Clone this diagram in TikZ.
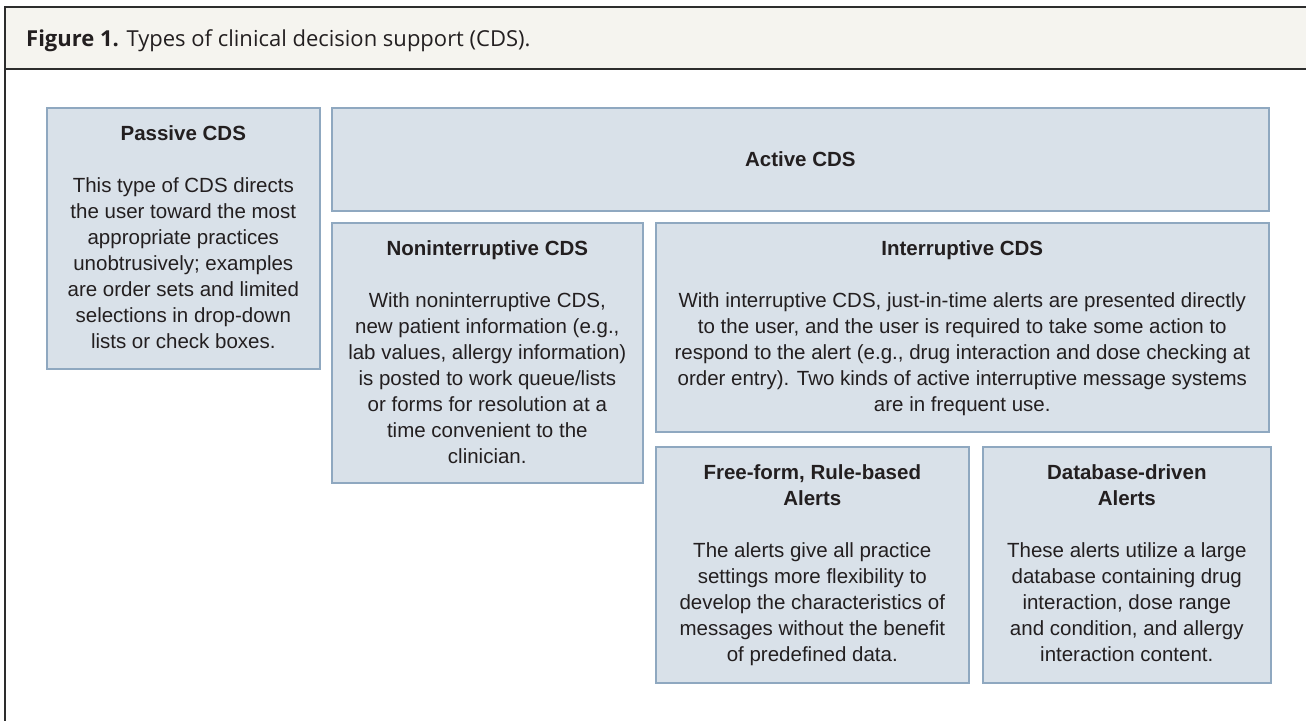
\documentclass[tikz,border=0pt]{standalone}
\usepackage{fontspec}
\setmainfont{Liberation Sans}
\newfontfamily\capfont{Open Sans}
\usetikzlibrary{calc}

\definecolor{boxfill}{RGB}{217,225,233}
\definecolor{boxline}{RGB}{143,168,192}
\definecolor{inktext}{RGB}{35,31,32}
\definecolor{headfill}{RGB}{245,244,239}
\definecolor{frameline}{RGB}{45,45,45}

\tikzset{
  cdsbox/.style={rectangle, draw=boxline, fill=boxfill, line width=1.6pt,
    inner sep=0pt, anchor=north west},
  boxtitle/.style={inner sep=0pt, anchor=north, align=center, text=inktext,
    font=\bfseries\fontsize{20.5}{26}\selectfont},
  boxbody/.style={inner sep=0pt, anchor=north, align=center, text=inktext,
    font=\fontsize{20.5}{26}\selectfont},
  figframe/.style={draw=frameline, line width=2pt}
}

\begin{document}
\begin{tikzpicture}[x=1pt,y=-1pt]
\useasboundingbox (0,0) rectangle (1306,720);
\clip (0,0) rectangle (1306,720);

% figure frame with caption band
\fill[headfill] (5,6.5) rectangle (1330,69);
\draw[figframe] (5,760) -- (5,6.5) -- (1330,6.5);
\draw[figframe] (5,69) -- (1330,69);
\node[anchor=base west, inner sep=0pt, text=inktext,
      font=\capfont\fontsize{22}{26}\selectfont] (caption) at (26,46)
  {\textbf{Figure 1.} Types of clinical decision support (CDS).};

% boxes
\node[cdsbox, minimum width=273pt, minimum height=261pt] (passive) at (46,107) {};
\node[cdsbox, minimum width=937pt, minimum height=103pt] (active) at (331,107) {};
\node[cdsbox, minimum width=311pt, minimum height=260pt] (nonint) at (331,222) {};
\node[cdsbox, minimum width=613pt, minimum height=209pt] (interr) at (655,222) {};
\node[cdsbox, minimum width=313pt, minimum height=236pt] (freeform) at (655,446) {};
\node[cdsbox, minimum width=288pt, minimum height=236pt] (dbdriven) at (982,446) {};

% titles (first baseline 33pt below the box top)
\node[boxtitle] (passiveT) at ($(passive.north)+(0,14.8)$) {\strut Passive CDS};
\node[boxtitle] (activeT) at ($(active.center)+(0,-10.9)$) {\strut Active CDS};
\node[boxtitle] (nonintT) at ($(nonint.north)+(0,14.8)$) {\strut Noninterruptive CDS};
\node[boxtitle] (interrT) at ($(interr.north)+(0,14.8)$) {\strut Interruptive CDS};
\node[boxtitle] (freeformT) at ($(freeform.north)+(0,14.8)$) {\strut Free-form, Rule-based\\Alerts};
\node[boxtitle] (dbdrivenT) at ($(dbdriven.north)+(0,14.8)$) {\strut Database-driven\\Alerts};

% descriptions
\node[boxbody] (passiveB) at ($(passive.north)+(0,66.8)$)
  {\strut This type of CDS directs\\the user toward the most\\appropriate practices\\unobtrusively; examples\\are order sets and limited\\selections in drop-down\\lists or check boxes.};
\node[boxbody] (nonintB) at ($(nonint.north)+(0,66.8)$)
  {\strut With noninterruptive CDS,\\new patient information (e.g.,\\lab values, allergy information)\\is posted to work queue/lists\\or forms for resolution at a\\time convenient to the\\clinician.};
\node[boxbody] (interrB) at ($(interr.north)+(0,66.8)$)
  {\strut With interruptive CDS, just-in-time alerts are presented directly\\to the user, and the user is required to take some action to\\respond to the alert (e.g., drug interaction and dose checking at\\order entry). Two kinds of active interruptive message systems\\are in frequent use.};
\node[boxbody] (freeformB) at ($(freeform.north)+(0,92.8)$)
  {\strut The alerts give all practice\\settings more flexibility to\\develop the characteristics of\\messages without the benefit\\of predefined data.};
\node[boxbody] (dbdrivenB) at ($(dbdriven.north)+(0,92.8)$)
  {\strut These alerts utilize a large\\database containing drug\\interaction, dose range\\and condition, and allergy\\interaction content.};
\end{tikzpicture}
\end{document}
